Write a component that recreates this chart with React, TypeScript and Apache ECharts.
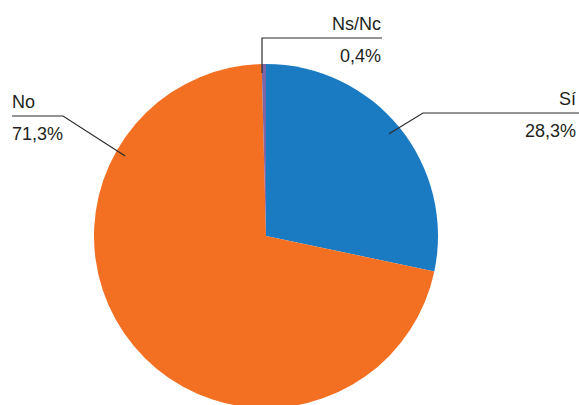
import React, { useEffect, useRef } from "react";
import * as echarts from "echarts";

const categories = ["Sí", "No", "Ns/Nc"];
const values = [28.3, 71.3, 0.4];
const colors = ["#1b7bc2", "#f37022", "#7b66a8"];

// layout of the callouts (pixels): anchor angle (deg) / radius inset, elbow, end, text anchor
const CX = 266;
const CY = 236;
const R = 172;
const callouts = [
  { angle: 39.7, inset: 12, elbow: [423, 113], end: [579, 113], tx: 576, ty: 114.5, align: "right" },
  { angle: 150.4, inset: 10, elbow: [63, 116], end: [12, 116], tx: 12, ty: 118, align: "left" },
  { angle: 91.4, inset: 9, elbow: [262, 38], end: [382, 38], tx: 381, ty: 39.5, align: "right" },
];

export default function App() {
  const ref = useRef<HTMLDivElement>(null);
  useEffect(() => {
    if (!ref.current) return;
    const chart = echarts.init(ref.current, undefined, { renderer: "svg" });
    const font = "'Liberation Sans', Arial, Helvetica, sans-serif";
    const common = {
      type: "pie",
      center: [CX, CY],
      radius: R,
      startAngle: 90,
      clockwise: true,
      avoidLabelOverlap: false,
      silent: true,
    };
    chart.setOption({
      animation: false,
      backgroundColor: "#ffffff",
      series: [
        {
          ...common,
          z: 2,
          data: categories.map((c, i) => ({
            name: c,
            value: values[i],
            itemStyle: { color: colors[i] },
          })),
          label: { show: false },
          labelLine: { show: false },
        },
        {
          ...common,
          z: 5,
          data: categories.map((c, i) => ({
            name: c,
            value: values[i],
            itemStyle: { color: "rgba(0,0,0,0)", borderWidth: 0 },
          })),
          label: {
            show: true,
            position: "outside",
            formatter: (p: any) =>
              `{n|${p.name}}\n{v|${String(p.value).replace(".", ",")}%}`,
            rich: {
              n: { fontSize: 18, lineHeight: 32, color: "#231f20", fontFamily: font },
              v: { fontSize: 18, lineHeight: 32, color: "#231f20", fontFamily: font },
            },
          },
          labelLine: {
            show: true,
            length: 20,
            length2: 40,
            lineStyle: { color: "#2b2b2b", width: 1.2 },
          },
          labelLayout: (params: any) => {
            const g = callouts[params.dataIndex];
            const a = (g.angle * Math.PI) / 180;
            const rr = R - g.inset;
            const start = [CX + rr * Math.cos(a), CY - rr * Math.sin(a)];
            return {
              x: g.tx,
              y: g.ty,
              align: g.align,
              verticalAlign: "middle",
              labelLinePoints: [start, g.elbow, g.end],
            };
          },
        },
      ],
    });
    return () => chart.dispose();
  }, []);
  return (
    <div
      ref={ref}
      style={{ position: "fixed", left: 0, top: 0, width: 579, height: 405 }}
    />
  );
}
